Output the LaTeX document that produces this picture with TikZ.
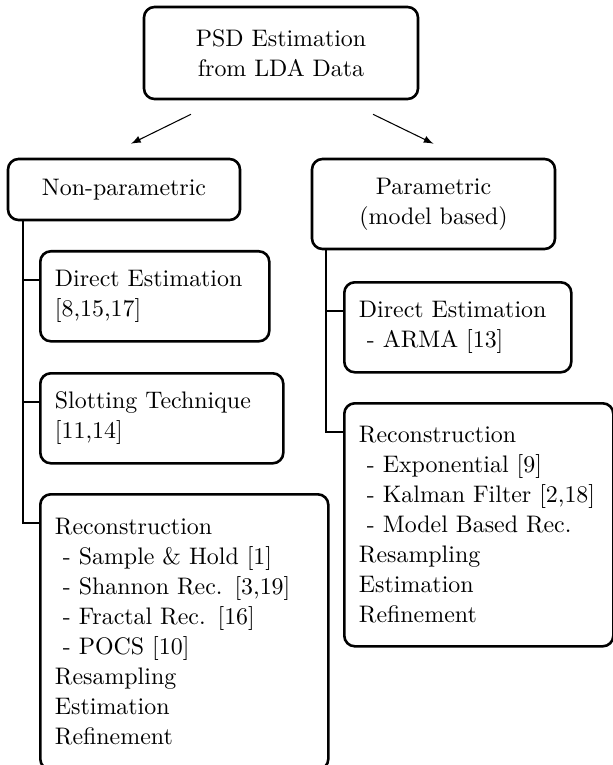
\documentclass[tikz,border=0pt]{standalone}
\usepackage{tikz}
\usetikzlibrary{arrows, calc}

\begin{document}
\begin{tikzpicture}[
    x=0.015cm, y=-0.015cm,
    font=\fontsize{10.2}{12.8}\selectfont,
    rootbox/.style = {rectangle, rounded corners=4.5pt, draw, line width=1.1pt, align=center, inner sep=0pt},
    leafbox/.style = {rectangle, rounded corners=4.5pt, draw, line width=1.1pt, align=left, inner xsep=0.22cm, inner ysep=0pt, anchor=north west},
    branch/.style = {line width=0.85pt},
    split/.style = {->, >=latex, line width=0.45pt}
]
\useasboundingbox (0,0) rectangle (613,765);

% Root and the two method families
\node[rootbox, minimum width=4.11cm, minimum height=1.38cm] (top) at (281,53) {PSD Estimation\\from LDA Data};
\node[rootbox, minimum width=3.48cm, minimum height=0.915cm] (nonpar) at (124,189.5) {Non-parametric};
\node[rootbox, minimum width=3.645cm, minimum height=1.35cm] (par) at (433.5,204) {Parametric\\(model based)};

% Split arrows
\draw[split] ([xshift=-1.35cm, yshift=-0.21cm]top.south) -- ([xshift=0.105cm, yshift=0.21cm]nonpar.north);
\draw[split] ([xshift=1.38cm, yshift=-0.21cm]top.south) -- ([yshift=0.21cm]par.north);

% Non-parametric methods
\node[leafbox, text width=2.995cm, minimum height=1.35cm] (dirL) at (39,250) {Direct Estimation\\{}[8,15,17]};
\node[leafbox, text width=3.205cm, minimum height=1.35cm] (slotL) at (39,372) {Slotting Technique\\{}[11,14]};
\node[leafbox, text width=3.88cm, minimum height=4.13cm] (recL) at (39,493) {Reconstruction\\\ - Sample \& Hold [1]\\\ - Shannon Rec. [3,19]\\\ - Fractal Rec. [16]\\\ - POCS [10]\\Resampling\\Estimation\\Refinement};

% Parametric methods
\node[leafbox, text width=2.965cm, minimum height=1.35cm] (dirR) at (343,281) {Direct Estimation\\\ - ARMA [13]};
\node[leafbox, text width=3.595cm, minimum height=3.645cm] (recR) at (343,402) {Reconstruction\\\ - Exponential [9]\\\ - Kalman Filter [2,18]\\\ - Model Based Rec.\\Resampling\\Estimation\\Refinement};

% Tree lines
\coordinate (spineL) at ([xshift=0.24cm]nonpar.south west);
\coordinate (spineR) at ([xshift=0.225cm]par.south west);
\draw[branch] (spineL) |- ([yshift=-0.45cm]dirL.north west);
\draw[branch] (spineL) |- ([yshift=-0.45cm]slotL.north west);
\draw[branch] (spineL) |- ([yshift=-0.45cm]recL.north west);
\draw[branch] (spineR) |- ([yshift=-0.45cm]dirR.north west);
\draw[branch] (spineR) |- ([yshift=-0.45cm]recR.north west);

\end{tikzpicture}
\end{document}
